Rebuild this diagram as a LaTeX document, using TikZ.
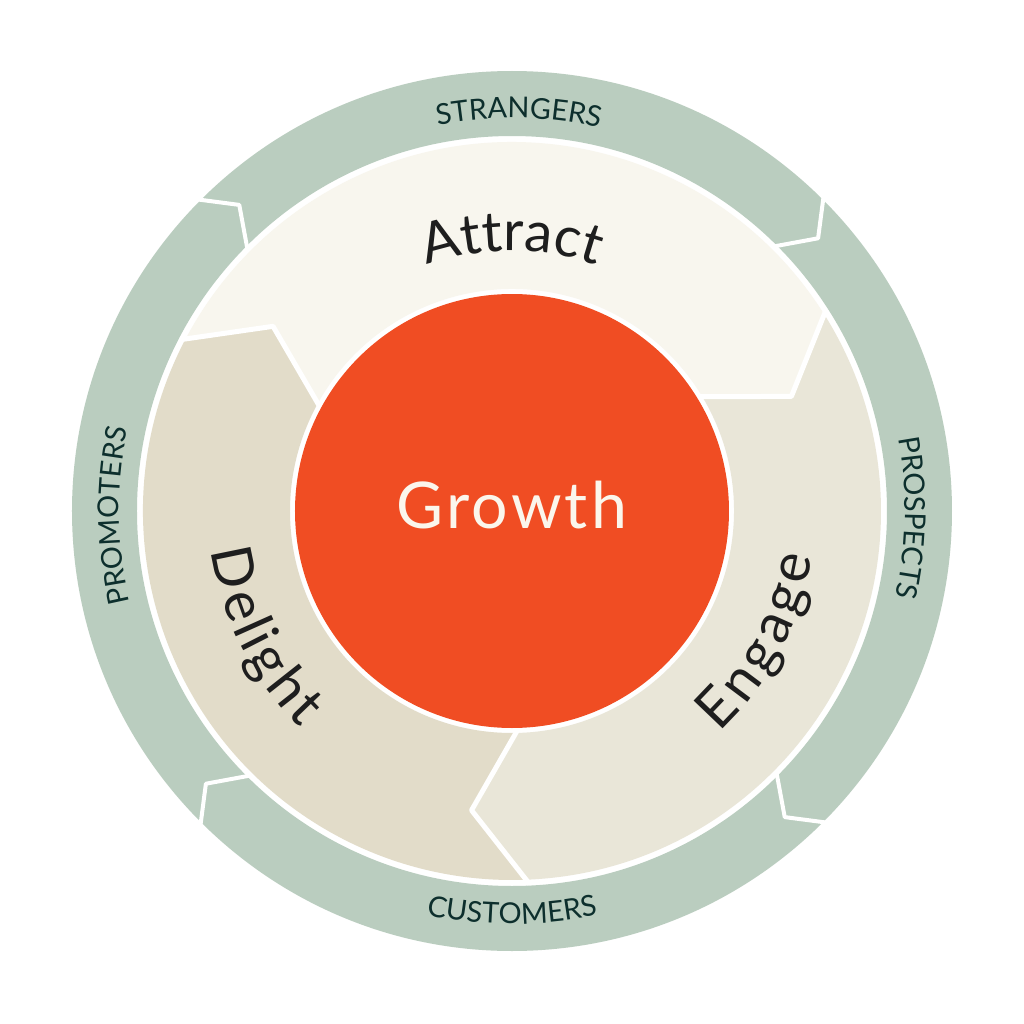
\documentclass[tikz,border=0pt]{standalone}
\usepackage{fontspec}
\setmainfont{Lato}
\usetikzlibrary{decorations.text,calc}
\definecolor{ringgreen}{HTML}{BACDBF}
\definecolor{attractc}{HTML}{F8F6EE}
\definecolor{engagec}{HTML}{E9E6D8}
\definecolor{delightc}{HTML}{E2DCC9}
\definecolor{growthred}{HTML}{F04D23}
\definecolor{growthtxt}{HTML}{FBF6EC}
\definecolor{stagetxt}{HTML}{1E1E1E}
\definecolor{ringtxt}{HTML}{0D2F2D}
\newcommand{\stagefont}{\fontsize{28}{30}\selectfont}
\newcommand{\ringfont}{\fontsize{14.4}{17}\selectfont}
\newcommand{\growthfont}{\fontsize{32.2}{34}\selectfont\addfontfeatures{LetterSpace=5}}
\tikzset{
  sepline/.style={white, line width=2.5pt, line join=round},
  gsepline/.style={white, line width=2pt, line join=round},
  stagelabel/.style={decorate, decoration={text along path, text align=center, text color=stagetxt, text={|\stagefont|#1}}},
  innerlabel/.style={decorate, decoration={text along path, text align=center, raise=-20.5pt, text color=stagetxt, text={|\stagefont|#1}}},
  ringlabel/.style={decorate, decoration={text along path, text align=center, text color=ringtxt, text={|\ringfont|#1}}}
}
\begin{document}
\begin{tikzpicture}[x=0.5pt,y=0.5pt]
\useasboundingbox[fill=white] (-512,-513) rectangle (512,511);
% outer green ring
\fill[ringgreen, even odd rule] (0,0) circle[radius=440] (0,0) circle[radius=375];
\foreach \a in {0,90,180,270} {
  \coordinate (gc) at (\a+41.7:410);
  \coordinate (gi) at (\a+45:375);
  \coordinate (go) at (\a+45:440);
  \draw[gsepline] ($(gc)!1.25!(gi)$) -- (gc) -- ($(gc)!1.25!(go)$);
}
% stage segments
\foreach \r/\c in {0/attractc, -120/engagec, 120/delightc} {
  \begin{scope}[rotate=\r]
    \fill[fill=\c] (32.2:369) arc[start angle=32.2, end angle=152.2, radius=369]
      -- (142.3:302) -- (151:222) arc[start angle=151, end angle=31, radius=222]
      -- (22.3:302) -- cycle;
  \end{scope}
}
\foreach \r in {0,-120,120} {
  \coordinate (bc) at (\r+22.3:302);
  \coordinate (bi) at (\r+31:222);
  \coordinate (bo) at (\r+32.2:369);
  \draw[sepline] ($(bc)!1.15!(bi)$) -- (bc) -- ($(bc)!1.06!(bo)$);
}
% center
\fill[growthred] (0,0) circle[radius=217];
\node[anchor=base, text=growthtxt, inner sep=0] (growth) at (0,-17) {\growthfont Growth};
% stage labels
\path[stagelabel=Attract] (120:260) arc[start angle=120, end angle=60, radius=260];
\path[innerlabel=Delight] (166.5:262) arc[start angle=166.5, end angle=246.5, radius=262];
\path[innerlabel=Engage] (292.3:262) arc[start angle=292.3, end angle=372.3, radius=262];
% ring labels
\path[ringlabel=STRANGERS] (119:393) arc[start angle=119, end angle=59, radius=393];
\path[ringlabel=PROSPECTS] (29:393) arc[start angle=29, end angle=-31, radius=393];
\path[ringlabel=CUSTOMERS] (240:413) arc[start angle=240, end angle=300, radius=413];
\path[ringlabel=PROMOTERS] (210.7:393) arc[start angle=210.7, end angle=150.7, radius=393];
\end{tikzpicture}
\end{document}
